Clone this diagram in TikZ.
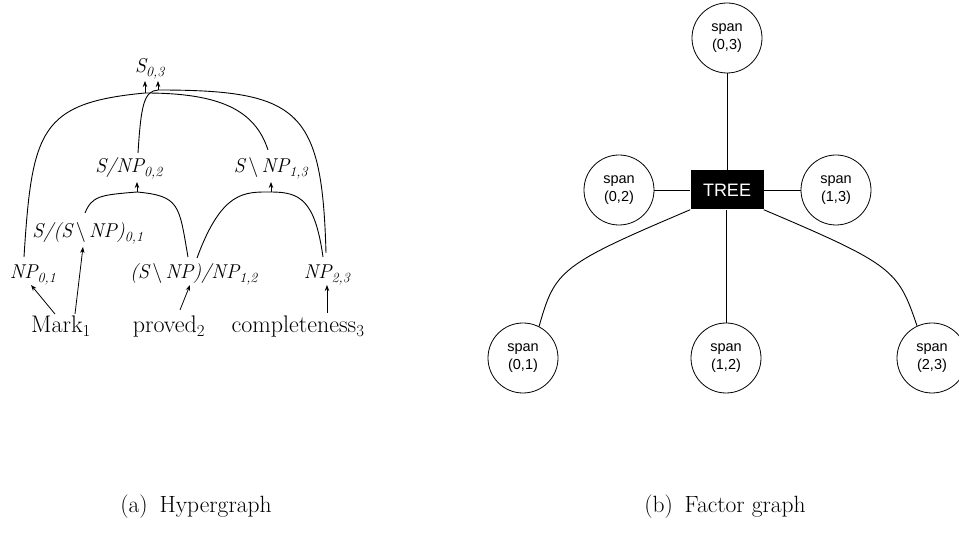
\documentclass[tikz,border=0pt]{standalone}
\usepackage{fontspec}
\newfontfamily\sansf{Liberation Sans}
\usetikzlibrary{arrows.meta,calc}
\tikzset{
 lab/.style={font=\fontsize{20}{23}\selectfont\itshape, inner sep=0pt, anchor=base},
 word/.style={font=\fontsize{24}{28}\selectfont, inner sep=0pt, anchor=base},
 spannode/.style={circle, draw, line width=0.8pt, minimum size=70pt, inner sep=0pt, align=center, font=\sansf\fontsize{14.5}{18.5}\selectfont},
 factor/.style={fill=black, text=white, minimum width=73pt, minimum height=39pt, inner sep=0pt, font=\sansf\fontsize{18}{20}\selectfont},
 arr/.style={-{Stealth[length=6pt,width=4.5pt]}, line width=0.8pt},
 hedge/.style={line width=0.9pt},
 fedge/.style={line width=0.9pt},
 capt/.style={font=\fontsize{23.5}{27}\selectfont}
}
\newcommand{\bsl}{\,{\upshape\textbackslash}\,}
\begin{document}
\begin{tikzpicture}[x=1pt,y=-1pt]
\useasboundingbox (0,0) rectangle (959,534);
\clip (0,0) rectangle (959,534);
% ---------- (a) hypergraph ----------
\node[lab] (s03) at (150,73) {S\textsubscript{0,3}};
\node[lab] (snp02) at (129,173) {S/NP\textsubscript{0,2}};
\node[lab] (snp13) at (271,173) {S\bsl NP\textsubscript{1,3}};
\node[lab] (ssnp01) at (88,238) {S/(S\bsl NP)\textsubscript{0,1}};
\node[lab] (np01) at (33,279) {NP\textsubscript{0,1}};
\node[lab] (snpnp12) at (194,279) {(S\bsl NP)/NP\textsubscript{1,2}};
\node[lab] (np23) at (327,279) {NP\textsubscript{2,3}};
\node[word] (mark) at (61,333) {Mark\textsubscript{1}};
\node[word] (proved) at (169,333) {proved\textsubscript{2}};
\node[word] (compl) at (298,333) {completeness\textsubscript{3}};

\coordinate (j1) at (145,93);
\coordinate (j2) at (158,90);
\coordinate (j3) at (271,192);
\coordinate (j4) at (137,192);

% edge: NP01 + S\NP13 -> S03
\draw[hedge] ([xshift=-9pt,yshift=22pt]np01.base) .. controls (32,130) and (40,103) .. (j1);
\draw[hedge] ([xshift=-3pt,yshift=23pt]snp13.base) .. controls (255,110) and (220,93) .. (j1);
\draw[arr] (j1) -- ($(j1 |- s03.base)+(0,8)$);
% edge: S/NP02 + NP23 -> S03
\draw[hedge] ([xshift=9pt,yshift=20pt]snp02.base) .. controls (141,105) and (144,91) .. (j2);
\draw[hedge] ([xshift=-1pt,yshift=26pt]np23.base) .. controls (322,110) and (300,90) .. (j2);
\draw[arr] (j2) -- ($(j2 |- s03.base)+(0,8)$);
% edge: S/(S\NP)01 + (S\NP)/NP12 -> S/NP02
\draw[hedge] ([xshift=-3pt,yshift=25pt]ssnp01.base) .. controls (92,196) and (100,195) .. (j4);
\draw[hedge] ([xshift=-6pt,yshift=22pt]snpnp12.base) .. controls (179,205) and (180,196) .. (j4);
\draw[arr] (j4) -- ($(j4 |- snp02.base)+(0,9)$);
% edge: (S\NP)/NP12 + NP23 -> S\NP13
\draw[hedge] ([xshift=3pt,yshift=21pt]snpnp12.base) .. controls (222,190) and (245,192) .. (j3);
\draw[hedge] ([xshift=-4pt,yshift=22pt]np23.base) .. controls (315,200) and (300,192) .. (j3);
\draw[arr] (j3) -- ($(j3 |- snp13.base)+(0,9)$);
% lexical arrows
\draw[arr] ([xshift=-6pt,yshift=19pt]mark.base) -- ([xshift=-2pt,yshift=-6pt]np01.base);
\draw[arr] ([xshift=14pt,yshift=19pt]mark.base) -- ([xshift=-5pt,yshift=-9pt]ssnp01.base);
\draw[arr] ([xshift=11pt,yshift=23pt]proved.base) -- ([xshift=-4pt,yshift=-6pt]snpnp12.base);
\draw[arr] ([xshift=29pt,yshift=20pt]compl.base) -- ([yshift=-6pt]np23.base);

% ---------- (b) factor graph ----------
\node[spannode] (s03r) at (727,38) {span\\(0,3)};
\node[factor] (tree) at (727,190) {TREE};
\node[spannode] (s02r) at (619,190) {span\\(0,2)};
\node[spannode] (s13r) at (836,190) {span\\(1,3)};
\node[spannode] (s01r) at (523,358) {span\\(0,1)};
\node[spannode] (s12r) at (726,358) {span\\(1,2)};
\node[spannode] (s23r) at (932,358) {span\\(2,3)};

\draw[fedge] (tree.north) -- (s03r.south);
\draw[fedge] (tree.west) -- (s02r.east);
\draw[fedge] (tree.east) -- (s13r.west);
\draw[fedge] (tree.south -| s12r.north) -- (s12r.north);
\draw[fedge] (tree.south west) .. controls (560,265) and (555,270) .. (s01r.63);
\draw[fedge] (tree.south east) .. controls (894,265) and (898,270) .. (s23r.115);

% captions
\node[capt] (capa) at (196,507) {(a)\enspace Hypergraph};
\node[capt] (capb) at (725,507) {(b)\enspace Factor graph};
\end{tikzpicture}
\end{document}
